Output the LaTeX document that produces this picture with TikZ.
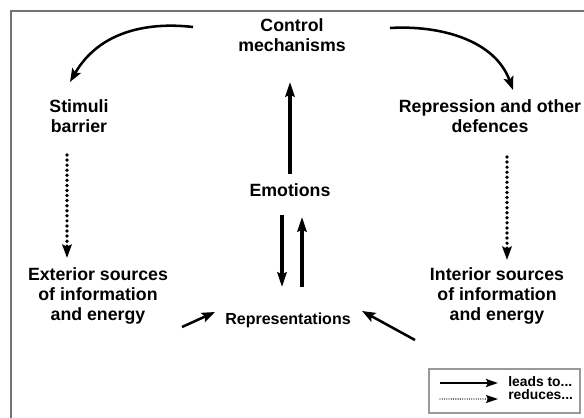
\documentclass[tikz,border=0pt]{standalone}
\usepackage{fontspec}
\setmainfont{Liberation Sans}
\usetikzlibrary{arrows.meta, calc}

\begin{document}
\begin{tikzpicture}[
    x=0.75pt,
    y=-0.75pt,
    every node/.style={inner sep=0pt},
    rotulo/.style={
        align=center,
        font=\fontsize{13.3}{15}\selectfont\bfseries
    },
    moldura/.style={
        draw=black!55,
        line width=1.3pt
    },
    conduz/.style={
        draw=black,
        line width=1.9pt,
        -{Stealth[length=10pt, width=7.5pt, inset=2pt]}
    },
    conduz forte/.style={
        conduz,
        line width=2.7pt,
        -{Stealth[length=11pt, width=7pt, inset=1.5pt]}
    },
    reduz/.style={
        draw=black,
        line width=2.8pt,
        line cap=round,
        dash pattern=on 0pt off 3.8pt,
        -{Stealth[length=10pt, width=7pt, inset=1.5pt]}
    }
]

\clip (0,0) rectangle (584,417);

% ============================================================
% MOLDURA
% ============================================================

\draw[moldura] (11,11) rectangle (620,440);

% ============================================================
% CONCEITOS
% ============================================================

\node[rotulo] (ctrl) at (292,35)
{Control\\mechanisms};

\node[rotulo] (stim) at (79,116)
{Stimuli\\barrier};

\node[rotulo] (rep) at (490,116)
{Repression and other\\defences};

\node[rotulo] (emo) at (290,190)
{Emotions};

\node[rotulo] (ext) at (98,296)
{Exterior sources\\of information\\and energy};

\node[rotulo] (int) at (497,296)
{Interior sources\\of information\\and energy};

\node[
    font=\fontsize{12}{14}\selectfont\bfseries
] (repr) at (288,320)
{Representations};

% ============================================================
% SETAS
% ============================================================

% Controle
\draw[conduz]
($(ctrl)+(-99,-8)$) .. controls +(-43,-5) and +(30,-52) ..
($(stim)+(-9,-34)$);

\draw[conduz]
($(ctrl)+(98,-7)$) .. controls +(50,-3) and +(-18,-50) ..
($(rep)+(23,-26)$);

\draw[conduz forte]
($(emo)+(0,-16)$) -- ($(ctrl)+(-2,47)$);

% Barreiras
\draw[reduz]
($(stim)+(-12,39)$) -- ($(ext)+(-31,-38)$);

\draw[reduz]
($(rep)+(17,41)$) -- ($(int)+(10,-36)$);

% Emocoes e representacoes
\draw[conduz forte]
($(emo)+(-8,25)$) -- ($(repr)+(-6,-33)$);

\draw[conduz forte]
($(repr)+(14,-33)$) -- ($(emo)+(12,27)$);

% Fontes
\draw[conduz]
($(ext)+(84,31)$) -- ($(repr)+(-73,-8)$);

\draw[conduz]
($(int)+(-82,44)$) -- ($(repr)+(74,-9)$);

% ============================================================
% LEGENDA
% ============================================================

\draw[draw=black!40, line width=0.8pt] (429,369) rectangle (580,413);

\node[
    anchor=west,
    align=left,
    font=\fontsize{10.4}{9.75}\selectfont\bfseries
] (leg) at (508,388)
{leads to...\\reduces...};

\draw[
    draw=black,
    line width=1.6pt,
    -{Stealth[length=9pt, width=6pt, inset=1.5pt]}
]
($(leg.west)+(-68,-5)$) -- ($(leg.west)+(-10,-5)$);

\draw[
    draw=black,
    line width=1pt,
    line cap=round,
    dash pattern=on 0pt off 1.7pt,
    -{Stealth[length=9pt, width=6pt, inset=1.5pt]}
]
($(leg.west)+(-68,11)$) -- ($(leg.west)+(-10,11)$);

\end{tikzpicture}
\end{document}
